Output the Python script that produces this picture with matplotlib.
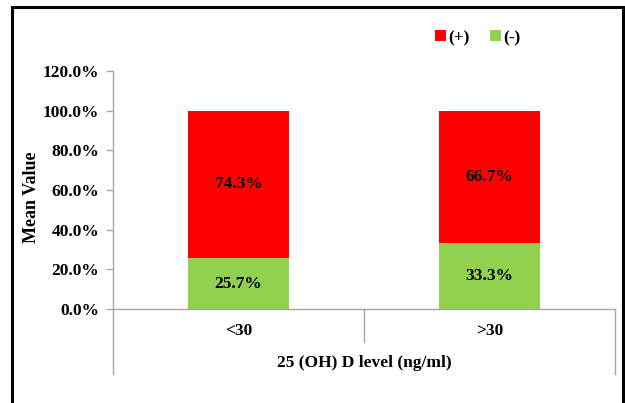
import matplotlib
matplotlib.use('Agg')

import matplotlib.pyplot as plt
import matplotlib.transforms as mtransforms
from matplotlib.patches import Rectangle
from matplotlib.ticker import PercentFormatter

################# Data #####################################################
categories = ['<30', '>30']
neg_vals   = [25.7, 33.3]      # (-)
pos_vals   = [74.3, 66.7]      # (+)
yticks     = [0, 20, 40, 60, 80, 100, 120]
############################################################################

plt.rcParams['font.family'] = ['Liberation Serif', 'DejaVu Serif']
plt.rcParams['font.weight'] = 'bold'

RED   = '#FF0000'
GREEN = '#92D050'
GREY  = '#A6A6A6'
W, H  = 625., 403.
FS    = 12.5

fig = plt.figure(figsize=(6.25, 4.03), dpi=100)
ax  = fig.add_axes([113/W, (H-309)/H, (615-113)/W, (309-71)/H])

x = range(len(categories))
ax.bar(x, neg_vals, width=0.4, color=GREEN, label='(-)', zorder=2)
ax.bar(x, pos_vals, width=0.4, bottom=neg_vals, color=RED, label='(+)', zorder=2)

for i in x:
  ax.text(i, neg_vals[i]/2., '%.1f%%' % neg_vals[i], ha='center', va='center',
          fontsize=FS, fontweight='bold')
  ax.text(i, neg_vals[i] + pos_vals[i]/2., '%.1f%%' % pos_vals[i], ha='center', va='center',
          fontsize=FS, fontweight='bold')

ax.set_xlim(-0.5, 1.5)
ax.set_ylim(0, 120)
ax.set_yticks(yticks)
ax.yaxis.set_major_formatter(PercentFormatter(decimals=1))
ax.set_xticks([])
ax.tick_params(axis='y', direction='out', length=5, width=1, color=GREY,
               labelsize=FS, pad=5)
for lab in ax.get_yticklabels():
  lab.set_fontweight('bold')

for s in ['top', 'right']:
  ax.spines[s].set_visible(False)
for s in ['left', 'bottom']:
  ax.spines[s].set_color(GREY)
  ax.spines[s].set_linewidth(1)

# category box below the axis
trans = mtransforms.blended_transform_factory(ax.transData, ax.transAxes)
low   = -(374-309)/(309-71.)
mid   = -(342-309)/(309-71.)
ax.plot([-0.5, -0.5], [0, low], color=GREY, lw=1, transform=trans, clip_on=False)
ax.plot([1.5, 1.5],   [0, low], color=GREY, lw=1, transform=trans, clip_on=False)
ax.plot([0.5, 0.5],   [0, mid], color=GREY, lw=1, transform=trans, clip_on=False)
for i, c in enumerate(categories):
  ax.text(i, -(331-309)/(309-71.), c, transform=trans, ha='center', va='center',
          fontsize=FS, fontweight='bold')
ax.text(0.5, -(363-309)/(309-71.), '25 (OH) D level (ng/ml)', transform=trans,
        ha='center', va='center', fontsize=FS, fontweight='bold')

ax.set_ylabel('Mean Value', fontsize=13, fontweight='bold', va='center')
ax.yaxis.set_label_coords(-(113-32)/(615-113.), 0.47)

handles, labels = ax.get_legend_handles_labels()
fig.legend(handles[::-1], labels[::-1], loc='center', bbox_to_anchor=(478/W, 1-38/H),
           ncol=2, frameon=False, fontsize=FS, handlelength=0.6, handleheight=0.6,
           handletextpad=0.15, columnspacing=1.2)

# outer frame
fig.patches.append(Rectangle((12/W, -0.02), (623-12)/W, 1.02-7/H, transform=fig.transFigure,
                             fill=False, edgecolor='black', lw=2.2))

fig.savefig('out.png', dpi=100)
